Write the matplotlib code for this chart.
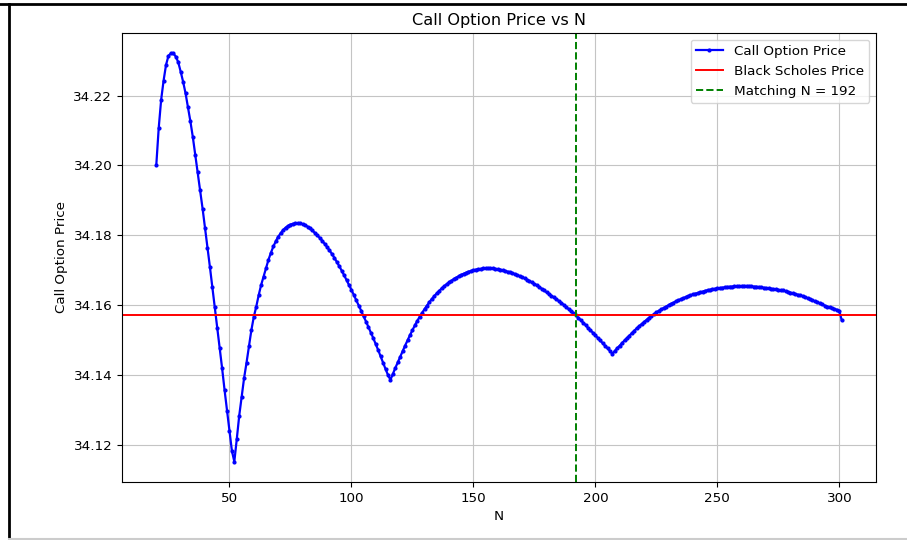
import numpy as np
import matplotlib.pyplot as plt
from matplotlib.lines import Line2D

# binomial call prices for N = 20 .. 301
steps = list(range(20, 302))
call_prices = [
    34.2000, 34.2107, 34.2188, 34.2243, 34.2288, 34.2314, 34.2321, 34.2321, 34.2312, 34.2296,  # 20-29
    34.2269, 34.2240, 34.2207, 34.2167, 34.2126, 34.2081, 34.2030, 34.1980, 34.1930, 34.1876,  # 30-39
    34.1821, 34.1764, 34.1709, 34.1651, 34.1594, 34.1534, 34.1477, 34.1419, 34.1357, 34.1298,  # 40-49
    34.1241, 34.1183, 34.1152, 34.1216, 34.1283, 34.1338, 34.1391, 34.1435, 34.1483, 34.1529,  # 50-59
    34.1567, 34.1596, 34.1629, 34.1658, 34.1682, 34.1706, 34.1730, 34.1750, 34.1768, 34.1783,  # 60-69
    34.1796, 34.1806, 34.1815, 34.1822, 34.1827, 34.1831, 34.1833, 34.1834, 34.1835, 34.1834,  # 70-79
    34.1832, 34.1829, 34.1825, 34.1820, 34.1814, 34.1807, 34.1800, 34.1793, 34.1785, 34.1776,  # 80-89
    34.1767, 34.1757, 34.1747, 34.1736, 34.1724, 34.1712, 34.1699, 34.1686, 34.1672, 34.1658,  # 90-99
    34.1644, 34.1629, 34.1614, 34.1599, 34.1584, 34.1568, 34.1553, 34.1537, 34.1521, 34.1505,  # 100-109
    34.1488, 34.1471, 34.1453, 34.1435, 34.1417, 34.1400, 34.1386, 34.1403, 34.1420, 34.1436,  # 110-119
    34.1452, 34.1468, 34.1484, 34.1499, 34.1514, 34.1528, 34.1542, 34.1555, 34.1567, 34.1578,  # 120-129
    34.1589, 34.1599, 34.1609, 34.1618, 34.1626, 34.1634, 34.1641, 34.1648, 34.1654, 34.1660,  # 130-139
    34.1665, 34.1670, 34.1675, 34.1679, 34.1683, 34.1687, 34.1690, 34.1693, 34.1696, 34.1698,  # 140-149
    34.1700, 34.1702, 34.1703, 34.1704, 34.1705, 34.1705, 34.1706, 34.1706, 34.1705, 34.1704,  # 150-159
    34.1703, 34.1702, 34.1700, 34.1698, 34.1696, 34.1694, 34.1692, 34.1689, 34.1686, 34.1683,  # 160-169
    34.1680, 34.1677, 34.1673, 34.1669, 34.1665, 34.1661, 34.1657, 34.1652, 34.1647, 34.1642,  # 170-179
    34.1637, 34.1632, 34.1627, 34.1622, 34.1617, 34.1612, 34.1607, 34.1601, 34.1595, 34.1589,  # 180-189
    34.1583, 34.1577, 34.1571, 34.1564, 34.1557, 34.1550, 34.1543, 34.1535, 34.1528, 34.1521,  # 190-199
    34.1514, 34.1506, 34.1499, 34.1491, 34.1484, 34.1476, 34.1469, 34.1461, 34.1469, 34.1477,  # 200-209
    34.1484, 34.1492, 34.1499, 34.1506, 34.1513, 34.1520, 34.1527, 34.1534, 34.1540, 34.1546,  # 210-219
    34.1552, 34.1558, 34.1564, 34.1569, 34.1574, 34.1579, 34.1584, 34.1588, 34.1592, 34.1596,  # 220-229
    34.1600, 34.1604, 34.1607, 34.1611, 34.1614, 34.1617, 34.1620, 34.1623, 34.1626, 34.1628,  # 230-239
    34.1631, 34.1633, 34.1635, 34.1637, 34.1639, 34.1641, 34.1643, 34.1644, 34.1646, 34.1647,  # 240-249
    34.1648, 34.1649, 34.1650, 34.1651, 34.1652, 34.1653, 34.1653, 34.1654, 34.1654, 34.1654,  # 250-259
    34.1655, 34.1655, 34.1655, 34.1654, 34.1654, 34.1653, 34.1653, 34.1652, 34.1651, 34.1650,  # 260-269
    34.1649, 34.1648, 34.1647, 34.1646, 34.1645, 34.1644, 34.1643, 34.1642, 34.1640, 34.1638,  # 270-279
    34.1636, 34.1634, 34.1632, 34.1630, 34.1628, 34.1626, 34.1623, 34.1620, 34.1617, 34.1614,  # 280-289
    34.1611, 34.1608, 34.1605, 34.1602, 34.1599, 34.1596, 34.1594, 34.1591, 34.1589, 34.1587,  # 290-299
    34.1584, 34.1557,  # 300-301
]
bs_price = 34.1572
match_n = 192

fs = 9.7
fig = plt.figure(figsize=(9.07, 5.40), dpi=100)
ax = fig.add_axes([0.1345, 0.1074, 0.8313, 0.8315])

ax.plot(steps, call_prices, marker='o', markersize=2, linewidth=1.6, color='blue', label='Call Option Price')
ax.axhline(bs_price, color='red', linewidth=1.4, label='Black Scholes Price')
ax.axvline(match_n, color='green', linestyle='--', linewidth=1.4, label='Matching N = {}'.format(match_n))

ax.set_title('Call Option Price vs N', fontsize=fs * 1.2)
ax.set_xlabel('N', fontsize=fs)
ax.set_ylabel('Call Option Price', fontsize=fs)
ax.tick_params(labelsize=fs)
ax.legend(fontsize=fs)
ax.grid(True, color='#c4c4c4')

# notebook frame around the figure
fig.add_artist(Line2D([0.0, 1.0], [1 - 4 / 540, 1 - 4 / 540], color='black', linewidth=2))
fig.add_artist(Line2D([9 / 907, 9 / 907], [0.0, 1 - 4 / 540], color='black', linewidth=2))
fig.add_artist(Line2D([9 / 907, 1.0], [1 / 540, 1 / 540], color='#cccccc', linewidth=1.5))

fig.savefig('out.png', dpi=100)
